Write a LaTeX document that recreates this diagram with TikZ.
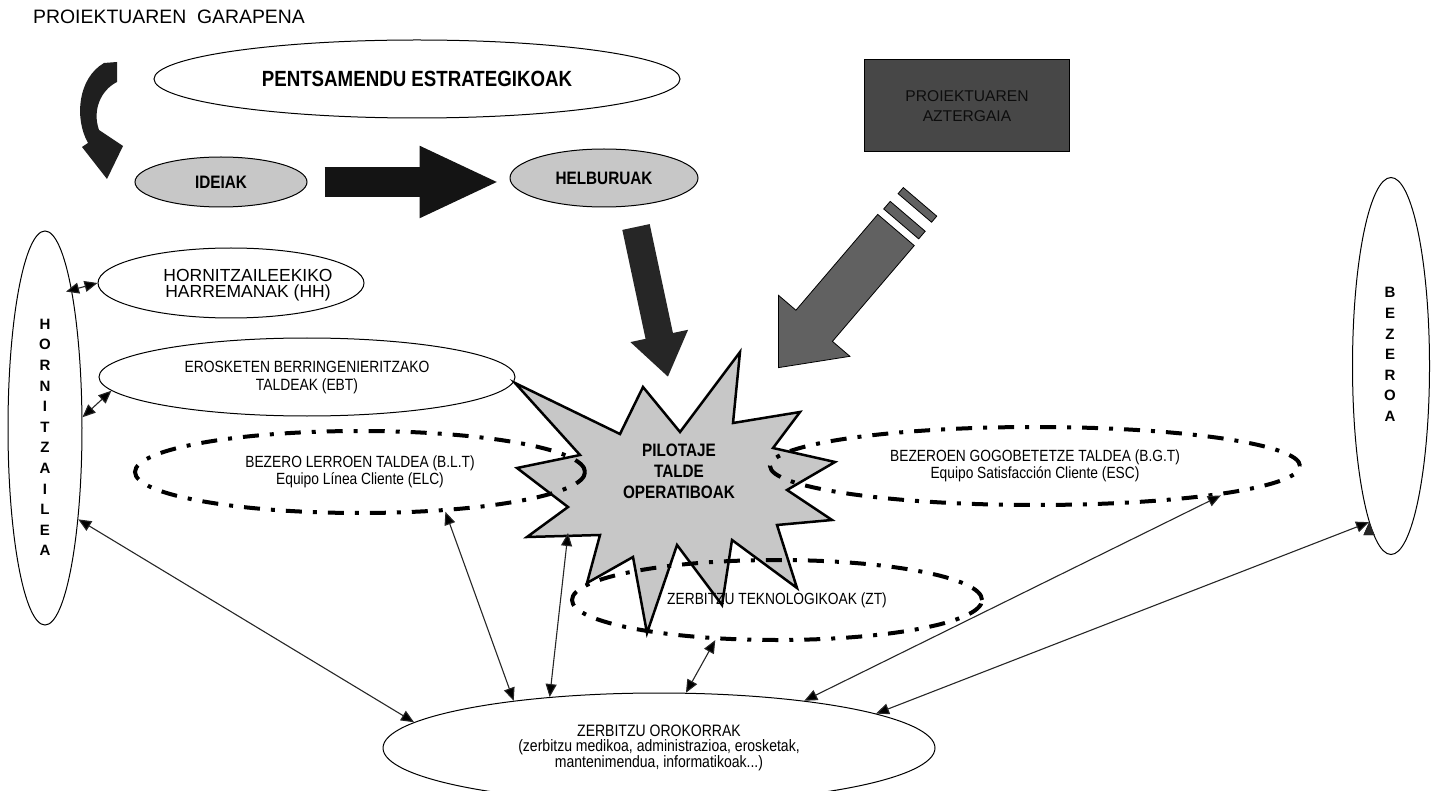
\documentclass[tikz,border=0pt]{standalone}
\usepackage{fontspec}
\setmainfont{Liberation Sans}
\newfontfamily\condsf[FakeStretch=0.85]{Liberation Sans}
\usetikzlibrary{arrows.meta,shapes.geometric,positioning}
\tikzset{
    %Define standard arrow tip
    >={Triangle[length=13pt,width=11pt]},
    %Define style for ellipses
    oval/.style={
           ellipse,
           draw=black, line width=1pt,
           inner sep=0pt,
           align=center},
    greyoval/.style={
           ellipse,
           draw=black, line width=1pt,
           fill=black!22,
           inner sep=0pt,
           font=\condsf\bfseries\fontsize{18}{20}\selectfont},
    dashoval/.style={
           ellipse,
           draw=black, line width=4pt,
           dash pattern=on 16pt off 11pt on 4pt off 11pt,
           inner sep=0pt,
           align=center,
           font=\condsf\fontsize{16.2}{17.5}\selectfont},
    letters/.style={
           inner sep=0pt,
           align=center,
           font=\bfseries\fontsize{15}{20.6}\selectfont},
    % Define arrow style
    link/.style={
           <->,
           line width=1.1pt,
           draw=black!85},
    block/.style={
           fill=black!62,
           draw=black, line width=0.8pt}
}
\begin{document}
\begin{tikzpicture}[x=1pt,y=-1pt]
\useasboundingbox (0,0) rectangle (1437,791);
 %top row
\node[anchor=west,inner sep=0pt,font=\fontsize{19.4}{22}\selectfont] (title) at (33,16.5) {PROIEKTUAREN\ \ GARAPENA};
\node[oval, minimum width=526pt, minimum height=78pt, font=\condsf\bfseries\fontsize{22}{24}\selectfont] (pents) at (417,79) {PENTSAMENDU ESTRATEGIKOAK};
\fill[black!88] (104,63) -- (117,62) -- (117,82) .. controls (101,90) and (92,110) .. (99,130) -- (123,146) -- (107,179) -- (82,147) -- (88,143) .. controls (74,118) and (78,78) .. (104,63) -- cycle;
\node[greyoval, minimum width=172pt, minimum height=50pt] (ideiak) at (221,182) {IDEIAK};
\node[greyoval, minimum width=188pt, minimum height=58pt] (helburuak) at (604,178) {HELBURUAK};
\draw[line width=30pt, black!92, -{Triangle[length=80pt,width=66pt]}, shorten <=17pt, shorten >=10pt] (ideiak.east) -- (ideiak.east -| helburuak.west);
\node[draw=black, line width=1pt, fill=black!72, minimum width=205pt, minimum height=92pt, text=black!95, align=center, font=\fontsize{15.6}{20}\selectfont] (azter) at (967,106) {PROIEKTUAREN\\AZTERGAIA};
 %side ellipses
\node[oval, minimum width=74pt, minimum height=394pt] (horn) at (45,428) {};
\node[letters] (hornletters) at (45,437.5) {H\\O\\R\\N\\I\\T\\Z\\A\\I\\L\\E\\A};
\node[oval, minimum width=77pt, minimum height=377pt] (bezeroa) at (1391,366) {};
\node[letters] (bezletters) at (1390,354.5) {B\\E\\Z\\E\\R\\O\\A};
\node[oval, minimum width=266pt, minimum height=70pt] (hh) at (231,283) {};
\node[align=center, inner sep=0pt, font=\fontsize{17.5}{16.5}\selectfont] (hhtext) at (248,285) {HORNITZAILEEKIKO\\HARREMANAK (HH)};
\node[oval, minimum width=416pt, minimum height=78pt, font=\condsf\fontsize{16.3}{18}\selectfont] (ebt) at (307,377) {EROSKETEN BERRINGENIERITZAKO\\TALDEAK (EBT)};
 %arrows into the star
\coordinate (helbout) at (636,227);
\coordinate (pilotin) at (668,377);
\draw[line width=28pt, black!85, -{Triangle[length=42pt,width=56pt]}] (helbout) -- (pilotin);
\begin{scope}[shift={(896,230)}, rotate=-130.5]
  \filldraw[block] (0,-24) -- (126,-24) -- (126,-47) -- (181,0) -- (126,47) -- (126,24) -- (0,24) -- cycle;
  \filldraw[block] (-18,-23) rectangle (-8,23);
  \filldraw[block] (-37,-22) rectangle (-29,22);
\end{scope}
 %star
\filldraw[fill=black!22, draw=black, line width=2.5pt] (515,383) -- (620,434) -- (643,387) -- (680,432) -- (740,352) -- (733,423) -- (800,412) -- (773,448) -- (835,462) -- (787,490) -- (832,520) -- (777,525) -- (797,588) -- (732,540) -- (722,605) -- (677,545) -- (647,633) -- (633,557) -- (587,583) -- (600,535) -- (527,537) -- (568,507) -- (517,468) -- (580,455) -- cycle;
\node[dashoval, minimum width=450pt, minimum height=82pt] (blt) at (360,472) {BEZERO LERROEN TALDEA (B.L.T)\\Equipo Línea Cliente (ELC)};
\node[dashoval, minimum width=530pt, minimum height=78pt] (bgt) at (1035,466) {BEZEROEN GOGOBETETZE TALDEA (B.G.T)\\Equipo Satisfacción Cliente (ESC)};
\node[dashoval, minimum width=410pt, minimum height=80pt] (zt) at (777,600) {ZERBITZU TEKNOLOGIKOAK (ZT)};
\node[align=center, inner sep=0pt, font=\condsf\bfseries\fontsize{18}{21}\selectfont] (pilot) at (679,471) {PILOTAJE\\TALDE\\OPERATIBOAK};
\coordinate (pilotlow) at (568,533);
 %bottom
\node[oval, minimum width=552pt, minimum height=110pt, font=\condsf\fontsize{16.5}{14.5}\selectfont] (zo) at (659,748) {ZERBITZU OROKORRAK\\(zerbitzu medikoa, administrazioa, erosketak,\\mantenimendua, informatikoak...)};
\path[link]
    (horn.79.5) edge[shorten <=-6pt] (hh.west)
    (horn.16.6) edge (ebt.184.5)
    (horn.-70.7) edge (zo.174.5)
    (blt.-25.4) edge (zo.162.3)
    (pilotlow) edge (zo.155.6)
    (zt.-147.2) edge (zo.64.2)
    (bgt.-9.25) edge (zo.18.7)
    (bezeroa.-98.6) edge (zo.9.9);
\end{tikzpicture}
\end{document}
